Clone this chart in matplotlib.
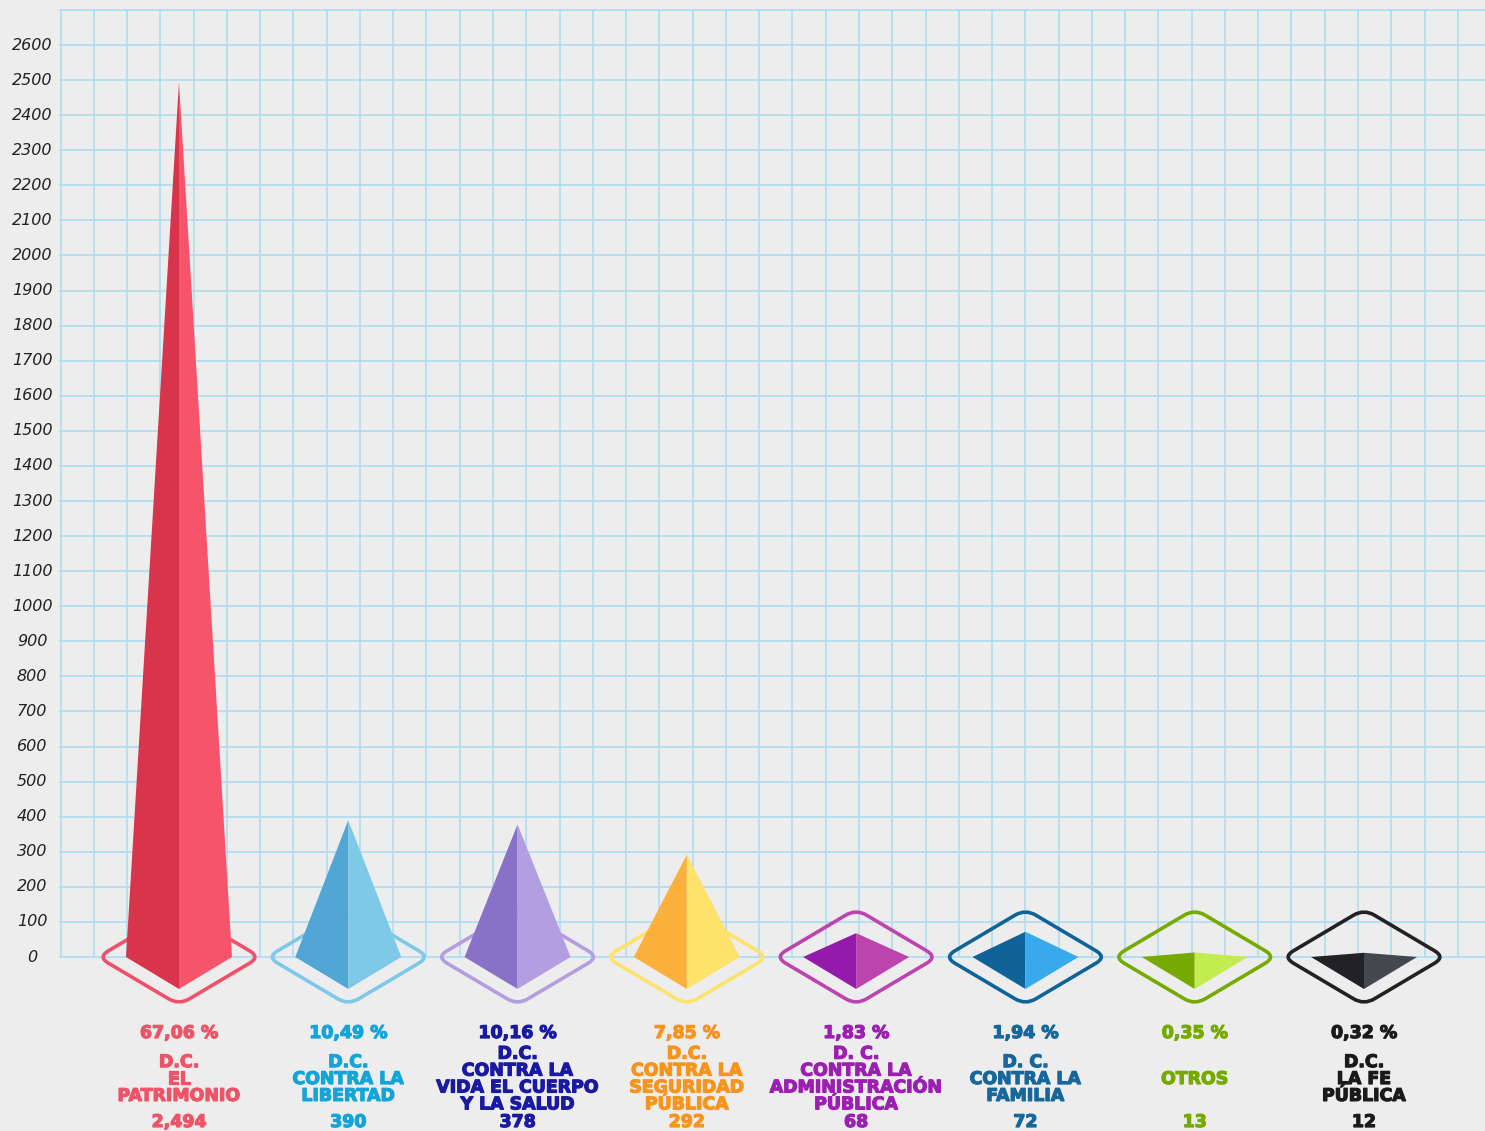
import matplotlib
matplotlib.use('Agg')
import matplotlib.pyplot as plt
import matplotlib.patheffects as pe
import numpy as np
from matplotlib.path import Path
from matplotlib.patches import PathPatch, Polygon

# datos
categorias = ['D.C.\nEL\nPATRIMONIO',
              'D.C.\nCONTRA LA\nLIBERTAD',
              'D.C.\nCONTRA LA\nVIDA EL CUERPO\nY LA SALUD',
              'D.C.\nCONTRA LA\nSEGURIDAD\nPÚBLICA',
              'D. C.\nCONTRA LA\nADMINISTRACIÓN\nPÚBLICA',
              'D. C.\nCONTRA LA\nFAMILIA',
              'OTROS',
              'D.C.\nLA FE\nPÚBLICA']
valores = [2494, 390, 378, 292, 68, 72, 13, 12]
etiquetas_valor = ['2,494', '390', '378', '292', '68', '72', '13', '12']
porcentajes = ['67,06 %', '10,49 %', '10,16 %', '7,85 %', '1,83 %', '1,94 %', '0,35 %', '0,32 %']
yticks = list(range(0, 2700, 100))

col_izq = ['#d8344b', '#52a6d6', '#8872c8', '#fbb03b', '#931aab', '#106398', '#77aa00', '#222226']
col_der = ['#f5546b', '#7ec8e8', '#b39ee0', '#fde26c', '#bb45ad', '#38aaec', '#c2ec50', '#45474e']
col_borde = ['#f0506a', '#7ec8e8', '#b39ee0', '#fde26c', '#bb45ad', '#106398', '#77aa00', '#222226']
col_texto = ['#ee5468', '#14a4d8', '#1a1aa0', '#f7941d', '#9b1fb0', '#17679a', '#77aa00', '#1a1a1a']

W, H = 1485, 1131
y0px = 957
ppu = (957 - 45) / 2600.0   # pixeles por unidad

def val(py):
    return (y0px - py) / ppu

fig = plt.figure(figsize=(W / 100, H / 100), dpi=100)
fig.patch.set_facecolor('#ededed')
ax = fig.add_axes([0, 0, 1, 1])
ax.set_facecolor('#ededed')
ax.set_xlim(0, W)
ax.set_ylim(val(H), val(0))
ax.axis('off')

# cuadricula
gcol = '#aedcf2'
for v in range(0, 2800, 100):
    ax.plot([60, W], [v, v], color=gcol, lw=1.2, zorder=1)
for k in range(43):
    x = 60.5 + k * 33.27
    ax.plot([x, x], [0, 2700], color=gcol, lw=1.2, zorder=1)

for t in yticks:
    ax.text(32, t, str(t), ha='center', va='center', fontsize=11.5,
            style='italic', color='#222222', family='DejaVu Sans')

def rombo_redondeado(cx, hw, hh, r):
    pts = [(cx - hw, 0), (cx, hh), (cx + hw, 0), (cx, -hh)]
    verts, codes = [], []
    n = len(pts)
    for i in range(n):
        p = np.array(pts[i], float)
        a = np.array(pts[i - 1], float)
        b = np.array(pts[(i + 1) % n], float)
        da = (a - p) / np.linalg.norm(a - p)
        db = (b - p) / np.linalg.norm(b - p)
        p1 = p + da * r
        p2 = p + db * r
        if i == 0:
            verts.append(tuple(p1)); codes.append(Path.MOVETO)
        else:
            verts.append(tuple(p1)); codes.append(Path.LINETO)
        verts += [tuple(p), tuple(p2)]
        codes += [Path.CURVE3, Path.CURVE3]
    verts.append(verts[0]); codes.append(Path.CLOSEPOLY)
    verts = [(x, y / ppu) for x, y in verts]
    return Path(verts, codes)

sep = (1364 - 179) / 7.0
fam = 'DejaVu Sans'
for i, v in enumerate(valores):
    cx = 179 + i * sep
    # borde
    ax.add_patch(PathPatch(rombo_redondeado(cx, 81, 48, 12), fill=False,
                           edgecolor=col_borde[i], lw=2.6, zorder=2))
    hw = 53
    fondo = -32 / ppu
    ax.add_patch(Polygon([(cx - hw, 0), (cx, v), (cx, fondo)], closed=True,
                         facecolor=col_izq[i], edgecolor='none', zorder=3))
    ax.add_patch(Polygon([(cx, v), (cx + hw, 0), (cx, fondo)], closed=True,
                         facecolor=col_der[i], edgecolor='none', zorder=3))
    grueso = [pe.withStroke(linewidth=0.9, foreground=col_texto[i])]
    ax.text(cx, val(1033), porcentajes[i], ha='center', va='center',
            fontsize=12.5, weight='bold', color=col_texto[i], family=fam,
            path_effects=grueso)
    ax.text(cx, val(1079), categorias[i], ha='center', va='center',
            fontsize=12.5, weight='bold', color=col_texto[i], family=fam,
            linespacing=0.92, path_effects=grueso)
    ax.text(cx, val(1122), etiquetas_valor[i], ha='center', va='center',
            fontsize=12.5, weight='bold', color=col_texto[i], family=fam,
            path_effects=grueso)

fig.savefig('out.png', dpi=100, facecolor=fig.get_facecolor())
